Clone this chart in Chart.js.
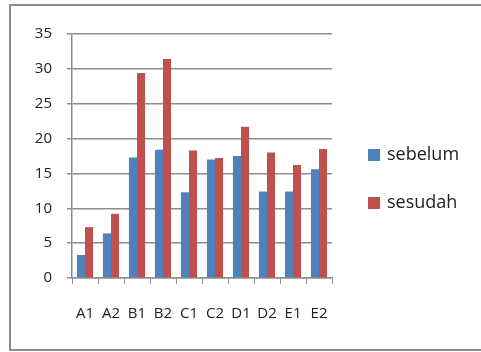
<!DOCTYPE html>
<html>
<head>
<meta charset="utf-8">
<script src="https://cdn.jsdelivr.net/npm/chart.js@4/dist/chart.umd.min.js"></script>
<style>
  html, body { margin: 0; padding: 0; background: #fff; overflow: hidden; }
  body { width: 481px; height: 352px; position: relative; }
  #frame {
    position: absolute; left: 9px; top: 4px; width: 600px; height: 347px;
    box-sizing: border-box; border: 2px solid #8c8c8c; background: #fff;
  }
  #wrap { position: absolute; left: 0; top: 0; width: 481px; height: 352px; }
</style>
</head>
<body>
<div id="frame"></div>
<div id="wrap"><canvas id="chart" width="481" height="352"></canvas></div>
<script>
// Pairs of measurements per group
const categories = ['A1', 'A2', 'B1', 'B2', 'C1', 'C2', 'D1', 'D2', 'E1', 'E2'];
const sebelum = [3.3, 6.4, 17.3, 18.4, 12.3, 17.0, 17.5, 12.4, 12.4, 15.6];
const sesudah = [7.3, 9.2, 29.4, 31.4, 18.3, 17.2, 21.7, 18.0, 16.2, 18.5];
const yTicks = [0, 5, 10, 15, 20, 25, 30, 35];

const FONT = "'Open Sans', 'Liberation Sans', sans-serif";
const GRID = '#8e8e8e';

// Legend column to the right of the plot, one entry per dataset
const sideLegend = {
  id: 'sideLegend',
  afterDraw(chart, args, opts) {
    const ctx = chart.ctx;
    const x = chart.chartArea.right + opts.gap;
    ctx.save();
    ctx.font = opts.fontSize + 'px ' + FONT;
    ctx.textBaseline = 'middle';
    ctx.textAlign = 'left';
    chart.data.datasets.forEach((ds, i) => {
      const yc = opts.firstY + i * opts.step;
      ctx.fillStyle = ds.backgroundColor;
      ctx.fillRect(x, yc - opts.box / 2, opts.box, opts.box);
      ctx.fillStyle = '#222';
      ctx.fillText(ds.label, x + opts.box + 7, yc);
    });
    ctx.restore();
  }
};

function draw() {
  new Chart(document.getElementById('chart'), {
    type: 'bar',
    data: {
      labels: categories,
      datasets: [
        { label: 'sebelum', data: sebelum, backgroundColor: '#4F81BD', borderWidth: 0 },
        { label: 'sesudah', data: sesudah, backgroundColor: '#C0504D', borderWidth: 0 }
      ]
    },
    options: {
      responsive: false,
      animation: false,
      devicePixelRatio: 1,
      layout: { padding: { top: 34, left: 0, right: 149, bottom: 29 } },
      datasets: { bar: { categoryPercentage: 0.62, barPercentage: 1.0 } },
      plugins: {
        tooltip: { enabled: false },
        legend: { display: false },
        sideLegend: { gap: 36, box: 12, fontSize: 18, firstY: 155, step: 48 }
      },
      scales: {
        x: {
          afterFit(scale) { scale.height = 45; },
          grid: {
            offset: true,
            drawOnChartArea: false,
            drawTicks: true,
            tickLength: 6,
            color: GRID
          },
          border: { color: GRID, width: 1.5 },
          ticks: {
            color: '#222',
            padding: 21,
            maxRotation: 0,
            font: { family: FONT, size: 15 }
          }
        },
        y: {
          min: 0,
          max: 35,
          afterFit(scale) { scale.width = 72; },
          afterBuildTicks(scale) { scale.ticks = yTicks.map(v => ({ value: v })); },
          grid: { color: GRID, lineWidth: 1.5, tickLength: 5 },
          border: { color: GRID, width: 1.5 },
          ticks: {
            color: '#222',
            padding: 15,
            font: { family: FONT, size: 15 }
          }
        }
      }
    },
    plugins: [sideLegend]
  });
}

Promise.all([
  document.fonts.load("18px 'Open Sans'"),
  document.fonts.load("15px 'Open Sans'")
]).then(draw, draw);
</script>
</body>
</html>
